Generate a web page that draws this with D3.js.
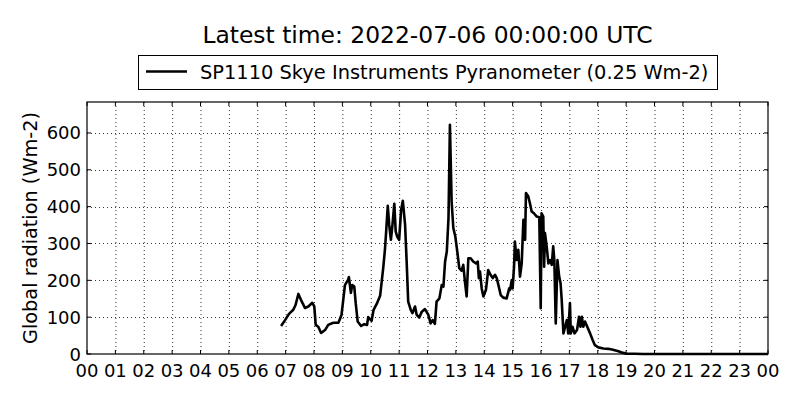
<!DOCTYPE html>
<html><head><meta charset="utf-8">
<script src="https://cdn.jsdelivr.net/npm/d3@7"></script>
<style>body{margin:0;background:#fff}svg{display:block}text{font-family:"DejaVu Sans",sans-serif}</style>
</head><body>
<svg id="c" width="800" height="400"></svg>
<script>
const titleText = "Latest time: 2022-07-06 00:00:00 UTC";
const seriesName = "SP1110 Skye Instruments Pyranometer (0.25 Wm-2)";
const yLabel = "Global radiation (Wm-2)";
const xTickHours = d3.range(0, 25);
const xTickLabels = ["00","01","02","03","04","05","06","07","08","09","10","11","12","13","14","15","16","17","18","19","20","21","22","23","00"];
const yTicks = [0,100,200,300,400,500,600];
const hours = [6.84,6.98,7.12,7.27,7.35,7.45,7.54,7.68,7.8,7.94,8.01,8.06,8.15,8.25,8.39,8.5,8.68,8.86,8.97,9.09,9.2,9.23,9.3,9.35,9.42,9.47,9.54,9.66,9.77,9.87,9.91,10.03,10.1,10.21,10.33,10.44,10.5,10.54,10.6,10.65,10.71,10.76,10.83,10.88,10.93,11.0,11.07,11.13,11.21,11.27,11.32,11.41,11.47,11.56,11.62,11.71,11.8,11.91,12.03,12.11,12.18,12.26,12.32,12.42,12.5,12.56,12.62,12.68,12.74,12.79,12.85,12.91,12.98,13.05,13.12,13.2,13.26,13.32,13.38,13.44,13.52,13.61,13.71,13.77,13.81,13.85,13.91,13.97,14.06,14.14,14.22,14.3,14.38,14.44,14.5,14.58,14.67,14.79,14.88,14.91,14.97,15.0,15.05,15.08,15.14,15.2,15.26,15.32,15.38,15.44,15.47,15.55,15.61,15.67,15.75,15.85,15.94,15.99,16.02,16.08,16.11,16.14,16.2,16.26,16.32,16.38,16.43,16.47,16.52,16.58,16.64,16.69,16.73,16.79,16.85,16.91,16.96,17.02,17.05,17.11,17.18,17.27,17.34,17.39,17.44,17.49,17.55,17.63,17.73,17.82,17.9,18.02,18.2,18.37,18.5,18.7,18.85,19.0,19.3,19.6,20,21,22,23,24];
const values = [76,92,109,120,133,163,147,125,129,139,129,79,74,57,65,79,85,85,106,187,201,209,166,187,183,138,88,76,81,79,100,90,120,136,158,234,283,329,402,351,310,346,408,332,319,310,391,416,351,242,142,120,111,129,106,99,115,122,106,83,92,82,142,151,187,183,251,278,369,622,414,342,319,278,233,226,242,196,156,260,260,251,246,251,206,224,178,156,174,228,215,206,215,206,187,160,153,151,178,174,201,178,237,305,255,283,210,246,364,310,437,428,409,387,382,373,371,124,382,373,237,328,292,246,255,242,292,255,83,255,210,192,147,56,74,92,56,138,56,74,56,65,101,74,101,74,88,74,56,38,24,18,15,14,12,8,4,1,0.5,0,0,0,0,0,0];

const svg = d3.select("#c");
const m = {l:87, r:768, t:102, b:354};
const x = d3.scaleLinear().domain([0,24]).range([m.l, m.r]);
const y = d3.scaleLinear().domain([0,684]).range([m.b, m.t]);

// grid
const g = svg.append("g");
g.selectAll(".gx").data(xTickHours.slice(1,-1)).join("line")
  .attr("x1", d=>x(d)+0.5).attr("x2", d=>x(d)+0.5).attr("y1", m.t).attr("y2", m.b)
  .attr("stroke","#000").attr("stroke-width",0.8).attr("stroke-dasharray","1,3");
g.selectAll(".gy").data(yTicks.slice(1)).join("line")
  .attr("y1", d=>Math.round(y(d))+0.5).attr("y2", d=>Math.round(y(d))+0.5).attr("x1", m.l).attr("x2", m.r)
  .attr("stroke","#000").attr("stroke-width",0.8).attr("stroke-dasharray","1,3");

// inner ticks
g.selectAll(".tb").data(xTickHours).join("line")
  .attr("x1", d=>x(d)).attr("x2", d=>x(d)).attr("y1", m.b).attr("y2", m.b-4).attr("stroke","#000");
g.selectAll(".tt").data(xTickHours).join("line")
  .attr("x1", d=>x(d)).attr("x2", d=>x(d)).attr("y1", m.t).attr("y2", m.t+4).attr("stroke","#000");
g.selectAll(".tl").data(yTicks).join("line")
  .attr("y1", d=>y(d)).attr("y2", d=>y(d)).attr("x1", m.l).attr("x2", m.l+4).attr("stroke","#000");
g.selectAll(".tr").data(yTicks).join("line")
  .attr("y1", d=>y(d)).attr("y2", d=>y(d)).attr("x1", m.r).attr("x2", m.r-4).attr("stroke","#000");

// data line
const line = d3.line().x((d,i)=>x(hours[i])).y(d=>y(d));
svg.append("path").datum(values).attr("d", line)
  .attr("fill","none").attr("stroke","#000").attr("stroke-width",2.6).attr("stroke-linejoin","round");

// frame
svg.append("rect").attr("x", m.l).attr("y", m.t).attr("width", m.r-m.l).attr("height", m.b-m.t)
  .attr("fill","none").attr("stroke","#000").attr("stroke-width",1.2);

// tick labels
svg.selectAll(".xl").data(xTickHours).join("text")
  .attr("x", d=>x(d)).attr("y", 377).attr("text-anchor","middle")
  .attr("font-size", 18).text((d,i)=>xTickLabels[i]);
svg.selectAll(".yl").data(yTicks).join("text")
  .attr("x", 81).attr("y", d=>y(d)+6.5).attr("text-anchor","end")
  .attr("font-size", 18).text(d=>d);

// y label
svg.append("text").attr("transform", `translate(37,${(m.t+m.b)/2}) rotate(-90)`)
  .attr("text-anchor","middle").attr("font-size", 19.3).text(yLabel);

// title
svg.append("text").attr("x", (m.l+m.r)/2).attr("y", 43).attr("text-anchor","middle")
  .attr("font-size", 23.4).text(titleText);

// legend
svg.append("rect").attr("x", 138.5).attr("y", 55.5).attr("width", 579).attr("height", 34)
  .attr("fill","#fff").attr("stroke","#000").attr("stroke-width",1);
svg.append("line").attr("x1",146).attr("x2",187).attr("y1",71.5).attr("y2",71.5)
  .attr("stroke","#000").attr("stroke-width",2.6);
svg.append("text").attr("x", 200).attr("y", 79).attr("font-size", 19.4).text(seriesName);
</script>
</body></html>
